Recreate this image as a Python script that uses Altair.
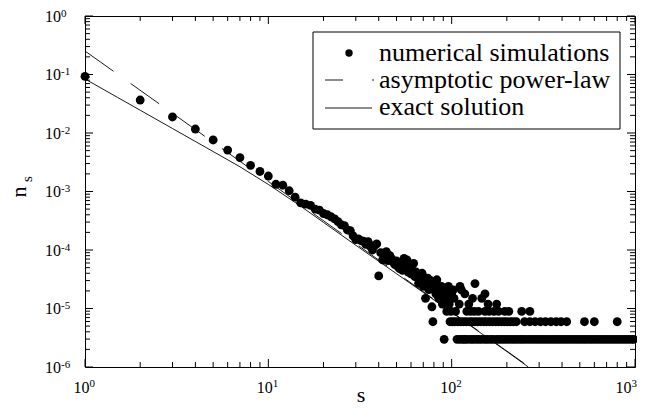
import altair as alt
import pandas as pd

W, H = 550, 351

# ---------------- data ----------------
# numerical simulations, one point per cluster size s (s = 1 .. 100)
sim_s = list(range(1, 101))
sim_n = [
    0.093, 0.0366, 0.0188, 0.0117, 0.0076, 0.0051, 0.0038, 0.0028, 0.0022, 0.00184,
    0.00133, 0.00128, 0.00103, 0.00080, 0.00064, 0.00061, 0.00058, 0.00050, 0.00048, 0.00042,
    0.00040, 0.00037, 0.00034, 0.000305, 0.00027, 0.00026, 0.00022, 0.000215, 0.000175, 0.00015,
    0.000155, 0.000144, 0.000142, 0.000125, 0.000139, 0.000115, 0.000100, 0.000120, 0.000127, 3.6e-5,
    9.0e-5, 6.8e-5, 8.5e-5, 9.4e-5, 6.6e-5, 8.0e-5, 7.1e-5, 6.2e-5, 5.6e-5, 6.5e-5,
    5.2e-5, 4.8e-5, 5.6e-5, 4.5e-5, 7.2e-5, 6.0e-5, 6.8e-5, 4.2e-5, 5.0e-5, 3.9e-5,
    4.5e-5, 5.9e-5, 3.5e-5, 4.2e-5, 3.6e-5, 2.7e-5, 3.1e-5, 3.6e-5, 4.0e-5, 2.4e-5,
    3.0e-5, 1.49e-5, 2.7e-5, 3.3e-5, 2.1e-5, 2.4e-5, 3.0e-5, 1.07e-5, 5.94e-6, 2.1e-5,
    2.7e-5, 1.78e-5, 3.1e-5, 2.38e-5, 1.49e-5, 2.08e-5, 1.78e-5, 2.38e-5, 1.19e-5, 1.49e-5,
    2.97e-6, 2.08e-5, 1.78e-5, 8.91e-6, 1.49e-5, 2.38e-5, 1.19e-5, 5.94e-6, 8.91e-6, 1.78e-5,
]

# sparse tail (s > 100): the values sit on discrete levels
tail_s_level1 = [107, 111, 115, 118, 122, 127, 131, 136, 141, 146, 152, 157, 163, 169, 176,
                 182, 189, 196, 203, 211, 219, 227, 236, 244, 253, 263, 273, 283, 294, 305,
                 316, 328, 340, 353, 366, 380, 394, 409, 424, 440, 457, 474, 492, 510, 529,
                 549, 570, 591, 614, 637, 661, 686, 712, 739, 766, 795, 825, 856, 888, 921,
                 956, 985]
tail_s_level2 = [101, 104, 108, 112, 116, 120, 125, 129, 134, 139, 144, 150, 155, 161, 167,
                 174, 180, 187, 194, 201, 209, 217, 225, 250, 267, 285, 305, 325, 348, 372,
                 395, 424, 530, 600, 800]
tail_s_level3 = [105, 121, 127, 133, 140, 152, 160, 170, 180, 195, 205, 241, 267]
tail_s_upper = [110, 124, 158, 176, 103, 130, 146, 118, 152, 102, 113, 111, 134]
tail_n_upper = [1.19e-5, 1.19e-5, 1.19e-5, 1.19e-5, 1.49e-5, 1.49e-5, 1.49e-5,
                1.78e-5, 1.78e-5, 2.08e-5, 2.08e-5, 2.38e-5, 2.67e-5]
level_n = [2.97e-6, 5.94e-6, 8.91e-6]

# asymptotic power-law (dashed)
power_s = [1, 3, 10, 30, 100, 265]
power_n = [0.252, 0.02175, 0.001484, 0.000128, 8.74e-6, 1.0e-6]

# exact solution (solid)
exact_s = [1, 1.5, 2, 3, 5, 7, 10, 15, 20, 30, 50, 70, 100, 150, 200, 262]
exact_n = [0.0839, 0.0408, 0.0245, 0.01194, 0.00482, 0.00265, 0.00132, 0.000562, 0.000296,
           0.0001205, 3.94e-5, 1.88e-5, 8.6e-6, 3.48e-6, 1.84e-6, 1.0e-6]

# axis ticks
x_major = [1, 10, 100, 1000]
x_exp = ["0", "1", "2", "3"]
x_minor = [m * 10 ** k for k in range(0, 3) for m in range(2, 10)]
y_major = [1, 1e-1, 1e-2, 1e-3, 1e-4, 1e-5, 1e-6]
y_exp = ["0", "-1", "-2", "-3", "-4", "-5", "-6"]
y_minor = [m * 10.0 ** k for k in range(-6, 0) for m in range(2, 10)]

legend_labels = ["numerical simulations", "asymptotic power-law", "exact solution"]

# ---------------- chart ----------------
FONT = "Liberation Serif"
xs = alt.Scale(type="log", domain=[1, 1000])
ys = alt.Scale(type="log", domain=[1e-6, 1])


def X(f="x"):
    return alt.X(f + ":Q", scale=xs, axis=None)


def Y(f="y"):
    return alt.Y(f + ":Q", scale=ys, axis=None)


one = pd.DataFrame({"d": [0]})

pts_df = pd.DataFrame({
    "x": sim_s + tail_s_level1 + tail_s_level2 + tail_s_level3 + tail_s_upper,
    "y": sim_n + [level_n[0]] * len(tail_s_level1) + [level_n[1]] * len(tail_s_level2)
    + [level_n[2]] * len(tail_s_level3) + tail_n_upper,
})

layers = []

layers.append(
    alt.Chart(pd.DataFrame({"x": exact_s, "y": exact_n})).mark_line(
        color="black", strokeWidth=0.9, clip=True
    ).encode(x=X(), y=Y())
)
layers.append(
    alt.Chart(pd.DataFrame({"x": power_s, "y": power_n})).mark_line(
        color="black", strokeWidth=0.9, strokeDash=[35, 21], clip=True
    ).encode(x=X(), y=Y())
)
layers.append(
    alt.Chart(pts_df).mark_circle(color="black", opacity=1, size=78).encode(x=X(), y=Y())
)

# inward ticks on all four sides
xmaj = pd.DataFrame({"x": x_major})
xmin = pd.DataFrame({"x": x_minor})
ymaj = pd.DataFrame({"y": y_major})
ymin = pd.DataFrame({"y": y_minor})
for df, L in ((xmaj, 8), (xmin, 5)):
    layers.append(alt.Chart(df).mark_rule(color="black", strokeWidth=1).encode(
        x=X(), y=alt.value(H), y2=alt.value(H - L)))
    layers.append(alt.Chart(df).mark_rule(color="black", strokeWidth=1).encode(
        x=X(), y=alt.value(0), y2=alt.value(L)))
for df, L in ((ymaj, 8), (ymin, 5)):
    layers.append(alt.Chart(df).mark_rule(color="black", strokeWidth=1).encode(
        y=Y(), x=alt.value(0), x2=alt.value(L)))
    layers.append(alt.Chart(df).mark_rule(color="black", strokeWidth=1).encode(
        y=Y(), x=alt.value(W), x2=alt.value(W - L)))

# tick labels (the last x label is nudged left to stay inside the page)
xl_main = pd.DataFrame({"x": x_major[:3], "e": x_exp[:3]})
xl_last = pd.DataFrame({"x": x_major[3:], "e": x_exp[3:]})
for df, shift in ((xl_main, 0), (xl_last, -8)):
    layers.append(alt.Chart(df).mark_text(font=FONT, fontSize=16, align="center",
                                          baseline="alphabetic", dx=-3.5 + shift,
                                          color="black").encode(
        x=X(), y=alt.value(H + 26), text=alt.value("10")))
    layers.append(alt.Chart(df).mark_text(font=FONT, fontSize=11, align="left",
                                          baseline="alphabetic", dx=4.5 + shift,
                                          color="black").encode(
        x=X(), y=alt.value(H + 20), text="e:N"))
yl = pd.DataFrame({"y": y_major, "e": y_exp})
layers.append(alt.Chart(yl).mark_text(font=FONT, fontSize=16, align="left",
                                      baseline="alphabetic", dy=5.5, color="black").encode(
    y=Y(), x=alt.value(-40), text=alt.value("10")))
layers.append(alt.Chart(yl).mark_text(font=FONT, fontSize=11, align="left",
                                      baseline="alphabetic", dy=0.5, color="black").encode(
    y=Y(), x=alt.value(-24), text="e:N"))

# axis titles
layers.append(alt.Chart(one).mark_text(font=FONT, fontSize=22, align="center",
                                       baseline="alphabetic", color="black").encode(
    x=alt.value(276), y=alt.value(386), text=alt.value("s")))
layers.append(alt.Chart(one).mark_text(font=FONT, fontSize=22, align="center",
                                       baseline="alphabetic", angle=270, color="black").encode(
    x=alt.value(-59), y=alt.value(176), text=alt.value("n")))
layers.append(alt.Chart(one).mark_text(font=FONT, fontSize=15, align="center",
                                       baseline="alphabetic", angle=270, color="black").encode(
    x=alt.value(-53), y=alt.value(163), text=alt.value("s")))

# legend box
layers.append(alt.Chart(one).mark_rect(fill="white", stroke="black", strokeWidth=1).encode(
    x=alt.value(228), x2=alt.value(535), y=alt.value(16), y2=alt.value(113)))
layers.append(alt.Chart(one).mark_circle(color="black", opacity=1, size=55).encode(
    x=alt.value(264), y=alt.value(37)))
layers.append(alt.Chart(one).mark_rule(color="black", strokeWidth=0.9, strokeDash=[18, 29]).encode(
    x=alt.value(240), x2=alt.value(289), y=alt.value(64)))
layers.append(alt.Chart(one).mark_rule(color="black", strokeWidth=0.9).encode(
    x=alt.value(240), x2=alt.value(287), y=alt.value(92)))
for label, ypix in zip(legend_labels, [45, 72, 99]):
    layers.append(alt.Chart(one).mark_text(font=FONT, fontSize=26, align="left",
                                           baseline="alphabetic", color="black").encode(
        x=alt.value(294), y=alt.value(ypix), text=alt.value(label)))

chart = alt.layer(*layers).properties(
    width=W, height=H,
    autosize=alt.AutoSizeParams(type="none"),
    padding={"left": 77, "top": 8, "right": 2, "bottom": 40},
).configure_view(stroke="black", strokeWidth=1)

chart.save("out.html", embed_options={"renderer": "svg", "actions": False})
